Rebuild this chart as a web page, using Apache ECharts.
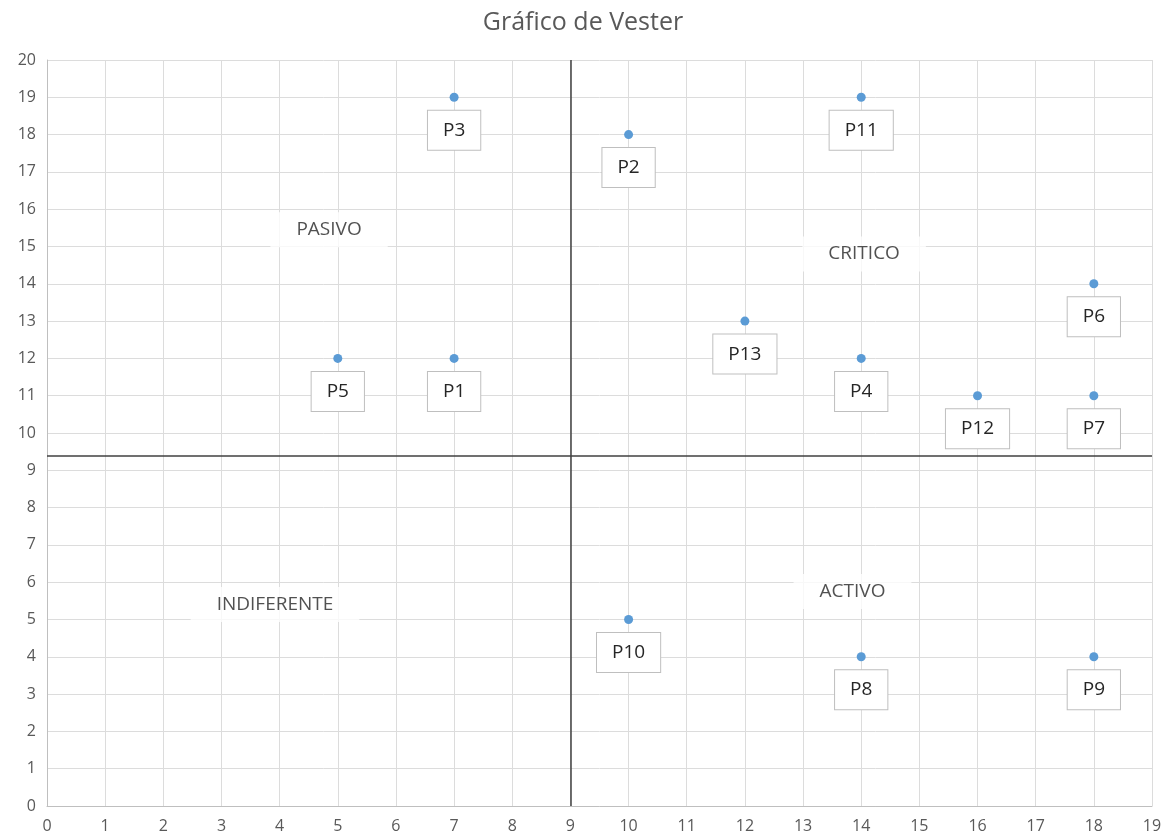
<!DOCTYPE html>
<html>
<head>
<meta charset="utf-8">
<title>Gráfico de Vester</title>
<script src="https://cdn.jsdelivr.net/npm/echarts@6/dist/echarts.min.js"></script>
<style>
  html, body { margin: 0; padding: 0; background: #fff; }
  #chart { width: 1166px; height: 839px; }
</style>
</head>
<body>
<div id="chart"></div>
<script>
// problemas (puntos) y sus coordenadas
var puntos = ['P1', 'P2', 'P3', 'P4', 'P5', 'P6', 'P7', 'P8', 'P9', 'P10', 'P11', 'P12', 'P13'];
var activos = [7, 10, 7, 14, 5, 18, 18, 14, 18, 10, 14, 16, 12];   // eje X
var pasivos = [12, 18, 19, 12, 12, 14, 11, 4, 4, 5, 19, 11, 13];   // eje Y

// cuadrantes
var cuadrantes = ['PASIVO', 'CRITICO', 'INDIFERENTE', 'ACTIVO'];
var cuadX = [4.85, 14.05, 3.92, 13.85];
var cuadY = [15.45, 14.8, 5.4, 5.75];

// lineas divisorias
var corteX = 9;
var corteY = 9.4;

var chart = echarts.init(document.getElementById('chart'));

var datos = puntos.map(function (p, i) {
  return { name: p, value: [activos[i], pasivos[i]] };
});
var datosCuad = cuadrantes.map(function (c, i) {
  return { name: c, value: [cuadX[i], cuadY[i]] };
});

var font = 'Open Sans';

var option = {
  animation: false,
  title: {
    text: 'Gráfico de Vester',
    left: 'center',
    top: 5,
    textStyle: { color: '#595959', fontFamily: font, fontWeight: 'normal', fontSize: 25 }
  },
  grid: { left: 47, right: 14, top: 60, bottom: 33, containLabel: false },
  xAxis: {
    type: 'value',
    min: 0,
    max: 19,
    interval: 1,
    axisLine: { lineStyle: { color: '#bfbfbf' } },
    axisTick: { show: false },
    axisLabel: { color: '#595959', fontFamily: font, fontSize: 16, margin: 12 },
    splitLine: { lineStyle: { color: '#dcdcdc' } }
  },
  yAxis: {
    type: 'value',
    min: 0,
    max: 20,
    interval: 1,
    axisLine: { show: true, lineStyle: { color: '#bfbfbf' } },
    axisTick: { show: false },
    axisLabel: { color: '#595959', fontFamily: font, fontSize: 16, margin: 11 },
    splitLine: { lineStyle: { color: '#dcdcdc' } }
  },
  series: [
    {
      type: 'scatter',
      data: datosCuad,
      symbolSize: 0,
      silent: true,
      label: {
        show: true,
        position: 'inside',
        formatter: '{b}',
        color: '#262626',
        fontFamily: font,
        fontSize: 19,
        backgroundColor: '#fff',
        padding: [8, 26]
      },
      markLine: {
        silent: true,
        symbol: 'none',
        label: { show: false },
        lineStyle: { color: '#404040', width: 1.5, type: 'solid' },
        data: [{ xAxis: corteX }, { yAxis: corteY }]
      }
    },
    {
      type: 'scatter',
      data: datos,
      symbolSize: 9,
      itemStyle: { color: '#5b9bd5', opacity: 1 },
      label: {
        show: true,
        position: 'bottom',
        distance: 9,
        formatter: '{b}',
        color: '#262626',
        fontFamily: font,
        fontSize: 19,
        backgroundColor: '#fff',
        borderColor: '#bfbfbf',
        borderWidth: 1,
        padding: [10, 15]
      }
    }
  ]
};

chart.setOption(option);
</script>
</body>
</html>
